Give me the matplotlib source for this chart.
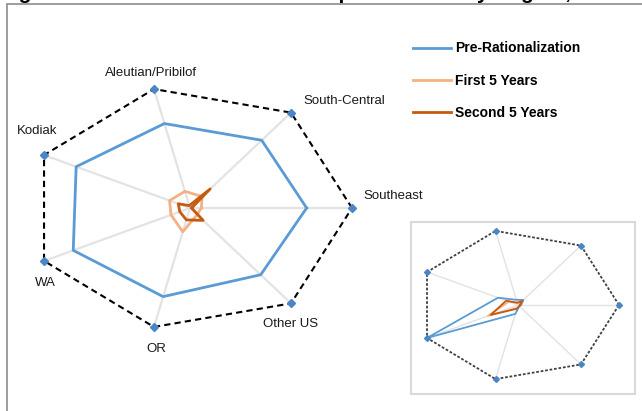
import numpy as np
import matplotlib.pyplot as plt
from matplotlib.patches import Rectangle

# ---------------- data ----------------
regions = ['Southeast', 'South-Central', 'Aleutian/Pribilof', 'Kodiak', 'WA', 'OR', 'Other US']
series_names = ['Pre-Rationalization', 'First 5 Years', 'Second 5 Years']

# main chart (scaled so the outer ring = 1)
pre_main = [0.72, 0.71, 0.71, 0.78, 0.80, 0.745, 0.70]
first_main = [0.07, 0.12, 0.14, 0.14, 0.13, 0.20, 0.07]
second_main = [0.01, 0.20, 0.02, 0.08, 0.07, 0.10, 0.13]
outer_main = [1, 1, 1, 1, 1, 1, 1]

# small inset chart
pre_inset = [0.03, 0.085, 0.07, 0.22, 1.0, 0.12, 0.02]
first_inset = [0.02, 0.04, 0.03, 0.10, 0.33, 0.04, 0.02]
second_inset = [0.02, 0.07, 0.03, 0.13, 0.30, 0.05, 0.02]
outer_inset = [1, 1, 1, 1, 1, 1, 1]

title = 'Figure 4. Crab Vessel Crew Participants Share by Region, 2005-2012'

colors = ['#5b9bd5', '#f4b183', '#c55a11']
spoke_color = '#e3e3e3'
marker_color = '#4a86c5'

plt.rcParams['font.family'] = ['Liberation Sans', 'DejaVu Sans']

theta = np.arange(len(regions)) * 2 * np.pi / len(regions)
theta_c = np.append(theta, theta[0])


def close(vals):
    return np.append(vals, vals[0])


def radar(ax, series, outer, lw, outer_style):
    ax.set_aspect('auto')
    ax.set_ylim(0, 1)
    ax.set_xticks([])
    ax.set_yticks([])
    ax.grid(False)
    ax.spines['polar'].set_visible(False)
    ax.patch.set_alpha(0)
    for t in theta:
        ax.plot([t, t], [0, 1], color=spoke_color, lw=lw * 0.8, zorder=1, clip_on=False)
    lines = []
    for vals, c in zip(series, colors):
        ln, = ax.plot(theta_c, close(vals), color=c, lw=lw, zorder=3, clip_on=False)
        lines.append(ln)
    ax.plot(theta_c, close(outer), color=outer_style[0], lw=outer_style[1],
            ls=(0, outer_style[2]), zorder=2, clip_on=False)
    ax.plot(theta, outer, ls='none', marker='D', ms=outer_style[3],
            color=marker_color, zorder=4, clip_on=False)
    return lines


fig = plt.figure(figsize=(6.42, 4.11), dpi=100)

# outer frame (cropped at right and bottom)
fig.patches.append(Rectangle((7 / 642, -0.05), 1.0, 1 - 4 / 411 + 0.05, transform=fig.transFigure,
                             fill=False, ec='#8c8c8c', lw=1.2))

# title, cut off at the top edge as in the source
fig.text(0.0, 1.0 + 1 / 411, title, fontsize=15, fontweight='bold', va='baseline', ha='left')

# main radar
ax = fig.add_axes([28 / 642, 81 / 411, 324 / 642, 244 / 411], projection='polar')
lines = radar(ax, [pre_main, first_main, second_main], outer_main, 2.0, ('black', 1.5, (3, 2), 4.5))

label_pos = [((11, 12), 'left'), ((12, 12), 'left'), ((-3, 16), 'center'), ((-7, 24), 'center'),
             ((1, -22), 'center'), ((2, -22), 'center'), ((0, -21), 'center')]
for t, name, (off, ha) in zip(theta, regions, label_pos):
    ax.annotate(name, xy=(t, 1), xytext=off, textcoords='offset pixels',
                ha=ha, va='center', fontsize=9.5, color='#1a1a1a', annotation_clip=False)

fig.legend(lines, series_names, loc='upper left', bbox_to_anchor=(400 / 642, 1 - 29 / 411),
           frameon=False, handlelength=2.75, labelspacing=1.3, handletextpad=0.3,
           prop={'weight': 'bold', 'size': 10})

# inset radar
fig.patches.append(Rectangle((411 / 642, 1 - 394 / 411), 224 / 642, 171.5 / 411,
                             transform=fig.transFigure, fill=False, ec='#d9d9d9', lw=1.5))
ax2 = fig.add_axes([417 / 642, 30 / 411, 202 / 642, 152 / 411], projection='polar')
radar(ax2, [pre_inset, first_inset, second_inset], outer_inset, 1.3, ('#404040', 1.3, (1.5, 1), 3))

fig.savefig('out.png', dpi=100)
